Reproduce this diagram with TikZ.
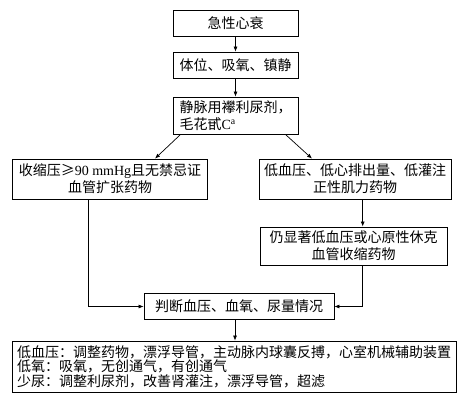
\documentclass[tikz,border=0pt]{standalone}
\usepackage{fontspec}
\setmainfont{Noto Sans CJK SC}
\newfontfamily\latinf{Liberation Serif}
\usetikzlibrary{calc,arrows.meta}
\begin{document}
\begin{tikzpicture}[x=1pt,y=-1pt,
  box/.style={draw, line width=0.8pt, inner sep=0pt, align=center,
    font=\fontsize{14pt}{17pt}\selectfont},
  arr/.style={line width=0.7pt, -{Latex[length=5pt,width=4pt]}},
  ln/.style={line width=0.7pt}]
\useasboundingbox[fill=white] (0,0) rectangle (473,407);
\node[box, minimum width=125pt, minimum height=26pt] (b1) at (235.5,23) {急性心衰};
\node[box, minimum width=125pt, minimum height=26pt] (b2) at (235.5,65) {体位、吸氧、镇静};
\node[box, minimum width=125pt, minimum height=37pt, align=left] (b3) at (235.5,115.5) {静脉用襻利尿剂，\\毛花甙{\latinf C\textsuperscript{a}}};
\node[box, minimum width=195pt, minimum height=40pt] (b4) at (110,179) {收缩压≥{\latinf 90 mmHg}且无禁忌证\\血管扩张药物};
\node[box, minimum width=192pt, minimum height=40pt] (b5) at (355,179) {低血压、低心排出量、低灌注\\正性肌力药物};
\node[box, minimum width=187pt, minimum height=38pt] (b6) at (353.5,246) {仍显著低血压或心原性休克\\血管收缩药物};
\node[box, minimum width=190pt, minimum height=26pt] (b7) at (239,306.5) {判断血压、血氧、尿量情况};
\node[box, minimum width=444pt, minimum height=51pt, align=left,
  font=\fontsize{14pt}{14.5pt}\selectfont] (b8) at (234,366.5)
  {低血压：调整药物，漂浮导管，主动脉内球囊反搏，心室机械辅助装置\\低氧：吸氧，无创通气，有创通气\\少尿：调整利尿剂，改善肾灌注，漂浮导管，超滤};
\coordinate (cl) at (88,0);
\coordinate (cr) at (362.7,0);
\coordinate (cm) at (235,0);
\draw[arr] (b1) -- (b2);
\draw[arr] (b2) -- (b3);
\draw[arr] ($(b3.south west)+(8,0)$) -- ($(b4.north)+(45,0)$);
\draw[arr] ($(b3.south east)+(-13,0)$) -- ($(b5.north)+(-43,0)$);
\draw[arr] (cr |- b5.south) -- (cr |- b6.north);
\draw[arr] (cl |- b4.south) |- (b7.west);
\draw[arr] (cr |- b6.south) |- (b7.east);
\draw[arr] (cm |- b7.south) -- (cm |- b8.north);
\end{tikzpicture}
\end{document}
